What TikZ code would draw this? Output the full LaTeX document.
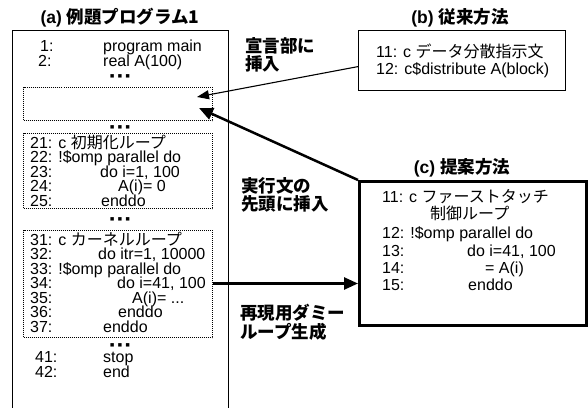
\documentclass[tikz,border=0pt]{standalone}
\usepackage{fontspec}
\setmainfont{Liberation Sans}
\newfontfamily\jp{Noto Sans CJK JP}
\newfontfamily\symf{DejaVu Sans}
\usetikzlibrary{arrows.meta}
\begin{document}
\begin{tikzpicture}[x=1pt,y=-1pt,
  code/.style={anchor=base west, inner sep=0pt, text height=10.5pt, text depth=3pt, font=\fontsize{16}{16}\selectfont},
  ttl/.style={anchor=base, inner sep=0pt, font=\fontsize{17.5}{17.5}\selectfont\bfseries},
  lbl/.style={anchor=north west, inner sep=0pt, align=left, font=\fontsize{17.5}{18.5}\selectfont\jp\bfseries},
  dotbox/.style={draw, densely dotted, line width=1pt, anchor=north west, inner sep=0pt},
  frame/.style={draw, line width=1.2pt, anchor=north west, inner sep=0pt},
  thick frame/.style={draw, line width=2.5pt, anchor=north west, inner sep=0pt},
  ellip/.style={inner sep=0pt, font=\symf\fontsize{4.5}{5}\selectfont},
  thinarrow/.style={line width=1.1pt, -{Triangle[length=12pt,width=9pt]}},
  thickarrow/.style={line width=2.5pt, -{Triangle[length=14pt,width=12pt]}}
]
\useasboundingbox (0,0) rectangle (588,407);
% frames
\node[frame, minimum width=216pt, minimum height=385pt] (boxA) at (12,30) {};
\node[dotbox, minimum width=189pt, minimum height=33pt] (d1) at (23,87) {};
\node[dotbox, minimum width=189pt, minimum height=75pt] (d2) at (23,133) {};
\node[dotbox, minimum width=189pt, minimum height=107pt] (d3) at (23,230) {};
\node[frame, minimum width=207pt, minimum height=60pt] (boxB) at (358,30) {};
\node[thick frame, minimum width=227pt, minimum height=144pt] (boxC) at (358,180) {};
% titles
\node[ttl] (ta) at (120,23) {(a) {\jp 例題プログラム1}};
\node[ttl] (tb) at (460,23) {(b) {\jp 従来方法}};
\node[ttl] (tc) at (462,173) {(c) {\jp 提案方法}};
% program (a)
\node[code] (n1) at (40,51) {1:};
\node[code] (c1) at (103,51) {program main};
\node[code] (n2) at (38,66) {2:};
\node[code] (c2) at (103,66) {real A(100)};
\node[ellip] (e1) at (120,76) {■\hspace{3.5pt}■\hspace{3.5pt}■};
\node[ellip] (e2) at (120,127) {■\hspace{3.5pt}■\hspace{3.5pt}■};
\node[code] (n21) at (30,148) {21: c {\jp 初期化ループ}};
\node[code] (n22) at (30,162.5) {22: !\$omp parallel do};
\node[code] (n23) at (30,177) {23:};
\node[code] (c23) at (100,177) {do i=1, 100};
\node[code] (n24) at (30,191.5) {24:};
\node[code] (c24) at (118,191.5) {A(i)= 0};
\node[code] (n25) at (30,206) {25:};
\node[code] (c25) at (101,206) {enddo};
\node[ellip] (e3) at (120,219) {■\hspace{3.5pt}■\hspace{3.5pt}■};
\node[code] (n31) at (30,245) {31: c {\jp カーネルループ}};
\node[code] (n32) at (30,259.5) {32:};
\node[code] (c32) at (98,259.5) {do itr=1, 10000};
\node[code] (n33) at (30,274) {33: !\$omp parallel do};
\node[code] (n34) at (30,288.5) {34:};
\node[code] (c34) at (117,288.5) {do i=41, 100};
\node[code] (n35) at (30,303) {35:};
\node[code] (c35) at (132,303) {A(i)= ...};
\node[code] (n36) at (30,317.5) {36:};
\node[code] (c36) at (118,317.5) {enddo};
\node[code] (n37) at (30,332) {37:};
\node[code] (c37) at (103,332) {enddo};
\node[ellip] (e4) at (120,345) {■\hspace{3.5pt}■\hspace{3.5pt}■};
\node[code] (n41) at (35,362) {41:};
\node[code] (c41) at (103,362) {stop};
\node[code] (n42) at (35,377) {42:};
\node[code] (c42) at (103,377) {end};
% (b)
\node[code] (b11) at (376,57) {11: c {\jp データ分散指示文}};
\node[code] (b12) at (376,74) {12: c\$distribute A(block)};
% (c)
\node[code] (k11) at (382,202) {11: c {\jp ファーストタッチ}};
\node[code] (k11b) at (430,219) {\jp 制御ループ};
\node[code] (k12) at (382,238) {12: !\$omp parallel do};
\node[code] (k13) at (382,256) {13:};
\node[code] (kc13) at (467,256) {do i=41, 100};
\node[code] (k14) at (382,273) {14:};
\node[code] (kc14) at (485,273) {= A(i)};
\node[code] (k15) at (382,290) {15:};
\node[code] (kc15) at (468,290) {enddo};
% labels
\node[lbl] (L1) at (245,37) {宣言部に\\挿入};
\node[lbl] (L2) at (241,177) {実行文の\\先頭に挿入};
\node[lbl] (L3) at (240,304) {再現用ダミー\\ループ生成};
% arrows
\coordinate (tip1) at (197,97);
\coordinate (tip2) at (199,108);
\draw[thinarrow] ([yshift=-6pt]boxB.west) -- (tip1);
\draw[thickarrow] (boxC.north west) -- (tip2);
\draw[thickarrow] ([yshift=5pt]d3.east |- n34.base) -- ([yshift=5pt]boxC.west |- n34.base);
\end{tikzpicture}
\end{document}
